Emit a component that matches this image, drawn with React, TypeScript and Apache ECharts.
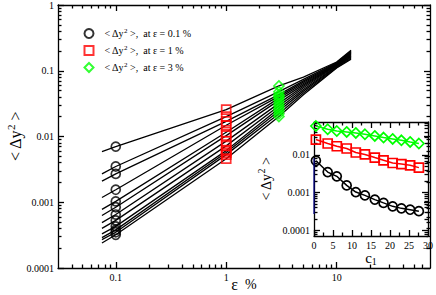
import React, { useEffect, useRef } from 'react';
import * as echarts from 'echarts';

// ---------- data ----------
// strain values (ε, %) at which each curve is sampled
const curveEps = [0.075, 0.1, 1, 3, 5, 10, 13.5];
// <Δy²> for each of the 12 curves, at the ε values above
const valAt0075 = [0.0059, 0.0027, 0.0021, 0.00118, 0.00078, 0.00063, 0.00049, 0.0004, 0.00033, 0.00029, 0.00027, 0.00024];
const valAt01 = [0.007, 0.0035, 0.0027, 0.00155, 0.00103, 0.00084, 0.00065, 0.00053, 0.00043, 0.00038, 0.00035, 0.00032];
const valAt1 = [0.0256, 0.0201, 0.017, 0.0148, 0.0116, 0.0103, 0.0085, 0.0072, 0.0061, 0.0057, 0.0053, 0.0046];
const valAt3 = [0.0588, 0.0481, 0.0433, 0.0408, 0.0384, 0.0354, 0.0319, 0.029, 0.0266, 0.0245, 0.0221, 0.0201];
const valAt5 = [0.08, 0.074, 0.07, 0.067, 0.064, 0.061, 0.058, 0.055, 0.052, 0.049, 0.046, 0.043];
const valAt10 = [0.136, 0.133, 0.13, 0.128, 0.126, 0.124, 0.122, 0.12, 0.117, 0.115, 0.112, 0.11];
const valAt135 = [0.205, 0.2, 0.195, 0.19, 0.185, 0.18, 0.175, 0.17, 0.165, 0.16, 0.155, 0.15];

// inset: c1 values of the 12 curves
const c1Values = [0.5, 3.6, 6, 8.6, 11, 13.4, 16, 18.3, 20.7, 23, 25.3, 27.6];
const insetBlueSpan = [0.0082, 0.00027];

const seriesNames = ['at ε = 0.1 %', 'at ε = 1 %', 'at ε = 3 %'];
const markerEps = [0.1, 1, 3];

const mainXTicks = [0.1, 1, 10];
const mainXTickLabels = ['0.1', '1', '10'];
const mainYTicks = [0.0001, 0.001, 0.01, 0.1, 1];
const mainYTickLabels = ['0.0001', '0.001', '0.01', '0.1', '1'];
const insetXTicks = [0, 5, 10, 15, 20, 25, 30];
const insetXMinorTicks = [2.5, 7.5, 12.5, 17.5, 22.5, 27.5];
const insetYTicks = [0.0001, 0.001, 0.01];
const insetYTickLabels = ['0.0001', '0.001', '0.01'];

const mainXRange = [0.03, 70];
const mainYRange = [0.0001, 1];
const insetXRange = [0, 30];
const insetYRange = [0.00007, 0.075];

// ---------- helpers ----------
const L = (v: number) => Math.log10(v);
const FONT = '"Liberation Serif", "Times New Roman", serif';
const BLACK = '#000';
const RED = '#ff0000';
const GREEN = '#00ff00';

function logMinors(lo: number, hi: number): number[] {
  const out: number[] = [];
  for (let p = Math.floor(L(lo)) - 1; p <= Math.ceil(L(hi)); p++) {
    for (let m = 2; m <= 9; m++) {
      const v = m * Math.pow(10, p);
      if (v > lo * 1.0001 && v < hi * 0.9999) out.push(L(v));
    }
  }
  return out;
}

function labelFor(ticks: number[], labels: string[]) {
  return (v: number) => {
    const i = ticks.findIndex((t) => Math.abs(L(t) - v) < 1e-6);
    return i >= 0 ? labels[i] : '';
  };
}

const lineStyle = { color: BLACK, width: 1.3 };
const labelStyle = { fontFamily: FONT, fontSize: 10, color: BLACK, margin: 4, hideOverlap: false };

function frameAxes(
  dim: 'x' | 'y',
  gridIndex: number,
  min: number,
  max: number,
  majors: number[],
  minors: number[],
  label: any,
  nameCfg: any
) {
  const sides = dim === 'x' ? ['bottom', 'top'] : ['left', 'right'];
  const base = { type: 'value', gridIndex, min, max, splitLine: { show: false } };
  const out: any[] = [];
  sides.forEach((pos, k) => {
    out.push({
      ...base,
      position: pos,
      axisLine: { show: true, onZero: false, lineStyle },
      axisTick: { show: true, inside: true, length: 6, customValues: majors, lineStyle },
      axisLabel: k === 0 ? { ...labelStyle, ...label, customValues: majors } : { show: false },
      ...(k === 0 ? { ...nameCfg, nameMoveOverlap: false } : {}),
    });
    out.push({
      ...base,
      position: pos,
      axisLine: { show: false, onZero: false },
      axisTick: { show: true, inside: true, length: 3.5, customValues: minors, lineStyle },
      axisLabel: { show: false },
    });
  });
  return out;
}

const supRich = (size: number, lh: number, supSize: number) => ({
  a: { fontFamily: FONT, fontSize: size, lineHeight: lh, color: BLACK },
  f: { fontFamily: FONT, fontSize: size, lineHeight: lh, color: BLACK, padding: [0, 0, 0, 6] },
  s: { fontFamily: FONT, fontSize: supSize, lineHeight: supSize + 1, verticalAlign: 'top', color: BLACK },
  b: { fontFamily: FONT, fontSize: supSize, lineHeight: supSize + 1, verticalAlign: 'bottom', color: BLACK },
});

export default function App() {
  const ref = useRef<HTMLDivElement>(null);

  useEffect(() => {
    if (!ref.current) return;
    const chart = echarts.init(ref.current, undefined, { renderer: 'svg' });

    const curveVals = [valAt0075, valAt01, valAt1, valAt3, valAt5, valAt10, valAt135];
    const markerVals = [valAt01, valAt1, valAt3];
    const markerSymbols = ['circle', 'rect', 'diamond'];
    const markerColors = [BLACK, RED, GREEN];
    const markerSizes = [9, 9, 10];

    const mainLines = valAt01.map((_, i) => ({
      type: 'line',
      name: 'curve' + i,
      xAxisIndex: 0,
      yAxisIndex: 0,
      symbol: 'none',
      lineStyle: { color: BLACK, width: 1.3 },
      z: 2,
      data: curveEps.map((e, k) => [L(e), L(curveVals[k][i])]),
    }));

    const mainMarkers = markerVals.map((vals, s) => ({
      type: 'scatter',
      name: seriesNames[s],
      xAxisIndex: 0,
      yAxisIndex: 0,
      symbol: markerSymbols[s],
      symbolSize: markerSizes[s],
      itemStyle: { color: 'rgba(0,0,0,0)', borderColor: markerColors[s], borderWidth: 1.7 },
      z: 4,
      data: vals.map((v) => [L(markerEps[s]), L(v)]),
    }));

    const insetSeries = markerVals.map((vals, s) => ({
      type: 'line',
      name: seriesNames[s],
      xAxisIndex: 4,
      yAxisIndex: 4,
      symbol: markerSymbols[s],
      symbolSize: markerSizes[s],
      showSymbol: true,
      lineStyle: { color: markerColors[s], width: 1.5 },
      itemStyle: { color: 'rgba(0,0,0,0)', borderColor: markerColors[s], borderWidth: 1.7 },
      z: 4,
      data: vals.map((v, i) => [c1Values[i], L(v)]),
    }));

    const insetBlue = {
      type: 'line',
      name: 'blue',
      xAxisIndex: 4,
      yAxisIndex: 4,
      symbol: 'none',
      lineStyle: { color: '#00008b', width: 1.2 },
      z: 5,
      data: insetBlueSpan.map((v) => [0, L(v)]),
    };

    const xAxes = [
      ...frameAxes(
        'x',
        0,
        L(mainXRange[0]),
        L(mainXRange[1]),
        mainXTicks.map(L),
        logMinors(mainXRange[0], mainXRange[1]),
        { formatter: labelFor(mainXTicks, mainXTickLabels) },
        {
          name: '{e|ε}{p|  %}',
          nameLocation: 'middle',
          nameGap: 8,
          nameTextStyle: {
            rich: {
              e: { fontFamily: FONT, fontSize: 16, lineHeight: 16, color: BLACK },
              p: { fontFamily: FONT, fontSize: 14, lineHeight: 16, color: BLACK },
            },
          },
        }
      ),
      ...frameAxes(
        'x',
        1,
        insetXRange[0],
        insetXRange[1],
        insetXTicks,
        insetXMinorTicks,
        {},
        {
          name: '{a|c}{b|1}',
          nameLocation: 'middle',
          nameGap: 14,
          nameTextStyle: { rich: supRich(15, 16, 10) },
        }
      ),
    ];

    const yAxes = [
      ...frameAxes(
        'y',
        0,
        L(mainYRange[0]),
        L(mainYRange[1]),
        mainYTicks.map(L),
        logMinors(mainYRange[0], mainYRange[1]),
        { formatter: labelFor(mainYTicks, mainYTickLabels) },
        {
          name: '{a|< Δy}{s|2}{a| >}',
          nameLocation: 'middle',
          nameRotate: 90,
          nameGap: 33,
          nameTextStyle: { rich: supRich(16, 20, 11) },
        }
      ),
      ...frameAxes(
        'y',
        1,
        L(insetYRange[0]),
        L(insetYRange[1]),
        insetYTicks.map(L),
        logMinors(insetYRange[0], insetYRange[1]),
        { formatter: labelFor(insetYTicks, insetYTickLabels) },
        {
          name: '{a|< Δy}{s|2}{a| >}',
          nameLocation: 'middle',
          nameRotate: 90,
          nameGap: 38,
          nameTextStyle: { rich: supRich(14, 20, 10) },
        }
      ),
    ];

    chart.setOption({
      animation: false,
      backgroundColor: '#fff',
      grid: [
        { left: 58, top: 5, right: 6, bottom: 27, show: false, containLabel: false, outerBoundsMode: 'none' },
        { left: 314, top: 122, width: 114, height: 114, show: false, containLabel: false, outerBoundsMode: 'none' },
      ],
      xAxis: xAxes,
      yAxis: yAxes,
      legend: {
        show: true,
        orient: 'vertical',
        left: 83.5,
        top: 27,
        padding: 0,
        itemWidth: 9,
        itemHeight: 9,
        itemGap: 5,
        selectedMode: false,
        data: seriesNames.map((n, s) => ({
          name: n,
          icon: markerSymbols[s],
          itemStyle: { color: 'rgba(0,0,0,0)', borderColor: markerColors[s], borderWidth: 2 },
        })),
        formatter: (n: string) => '{f|< Δy}{s|2}{a| >,  ' + n + '}',
        textStyle: { fontFamily: FONT, fontSize: 10, color: BLACK, rich: supRich(10, 13, 7) },
      },
      series: [...mainLines, ...mainMarkers, ...insetSeries, insetBlue],
    });

    return () => chart.dispose();
  }, []);

  return <div ref={ref} style={{ width: 436, height: 295, position: 'absolute', left: 0, top: 0 }} />;
}
